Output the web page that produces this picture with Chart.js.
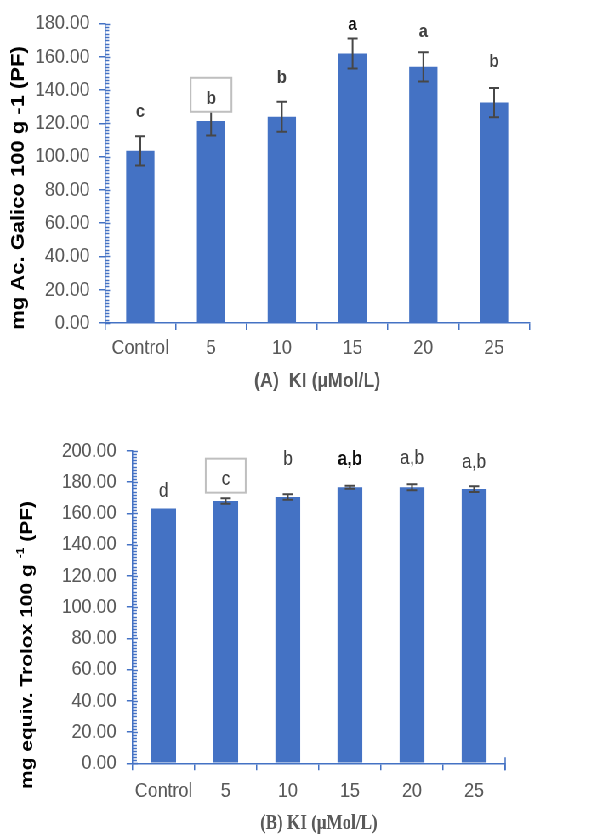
<!DOCTYPE html>
<html>
<head>
<meta charset="utf-8">
<script src="https://cdn.jsdelivr.net/npm/chart.js@4.4.1/dist/chart.umd.min.js"></script>
<style>
  html, body { margin: 0; padding: 0; background: #fff; }
  body { width: 614px; height: 834px; overflow: hidden; position: relative; }
  /* the figure is laid out on a 722px-wide stage and set into the page width */
  #stage { position: absolute; left: 0; top: 0; width: 722px; height: 834px;
           transform: scaleX(0.850416); transform-origin: 0 0; }
  #panelA { position: absolute; left: 0; top: 0; width: 722px; height: 400px; }
  #panelB { position: absolute; left: 0; top: 420px; width: 722px; height: 414px; }
</style>
</head>
<body>
<div id="stage">
  <div id="panelA"><canvas id="chartA" width="722" height="400"></canvas></div>
  <div id="panelB"><canvas id="chartB" width="722" height="414"></canvas></div>
</div>
<script>
// KI treatment levels (µMol/L)
const categories = ['Control', '5', '10', '15', '20', '25'];

// (A) total phenolics, mg gallic acid equivalents per 100 g FW
const phenolValues = [103.5, 121.5, 124.0, 162.0, 154.0, 132.5];
const phenolErrors = [8.8, 8.8, 9.0, 9.0, 8.8, 8.8];
const phenolLetters = ['c', 'b', 'b', 'a', 'a', 'b'];
const phenolTicks = [0, 20, 40, 60, 80, 100, 120, 140, 160, 180];

// (B) antioxidant capacity, mg Trolox equivalents per 100 g FW
const troloxValues = [163.2, 168.0, 170.5, 176.8, 176.8, 175.6];
const troloxErrors = [0, 1.8, 1.8, 0.9, 1.9, 1.8];
const troloxLetters = ['d', 'c', 'b', 'a,b', 'a,b', 'a,b'];
const troloxTicks = [0, 20, 40, 60, 80, 100, 120, 140, 160, 180, 200];

const BLUE = '#4472C4';
const AXIS = '#4472C4';
const TICK_TEXT = '#595959';
const SANS = '"Liberation Sans", Arial, sans-serif';
const SERIF = '"Liberation Serif", "Times New Roman", serif';

// Draws error bars, significance letters, minor axis ticks and the axis captions.
const decorations = {
  id: 'decor',
  afterDatasetsDraw(chart, args, o) {
    const ctx = chart.ctx;
    const ys = chart.scales.y;
    const meta = chart.getDatasetMeta(0);
    const vals = chart.data.datasets[0].data;

    ctx.save();
    ctx.strokeStyle = o.errColor;
    ctx.lineWidth = 2;
    meta.data.forEach((bar, i) => {
      const e = o.errors[i];
      if (!e) return;
      const yt = ys.getPixelForValue(vals[i] + e);
      const yb = ys.getPixelForValue(vals[i] - e);
      ctx.beginPath();
      ctx.moveTo(bar.x, yt); ctx.lineTo(bar.x, yb);
      ctx.moveTo(bar.x - 6, yt); ctx.lineTo(bar.x + 6, yt);
      ctx.moveTo(bar.x - 6, yb); ctx.lineTo(bar.x + 6, yb);
      ctx.stroke();
    });

    // significance letters above each bar
    ctx.textAlign = 'center';
    ctx.textBaseline = 'alphabetic';
    meta.data.forEach((bar, i) => {
      const base = ys.getPixelForValue(vals[i] + (o.errors[i] || 0)) - o.letterOffsets[i];
      const st = o.letterStyles[i];
      if (o.boxed === i) {
        ctx.fillStyle = '#FFFFFF';
        ctx.fillRect(bar.x - o.boxW / 2, base - 26.5, o.boxW, 34);
        ctx.strokeStyle = '#BFBFBF';
        ctx.lineWidth = 2;
        ctx.strokeRect(bar.x - o.boxW / 2, base - 26.5, o.boxW, 34);
      }
      ctx.font = st.font;
      ctx.fillStyle = st.color;
      ctx.fillText(o.letters[i], bar.x, base);
    });
    ctx.restore();
  },
  afterDraw(chart, args, o) {
    const ctx = chart.ctx;
    const ys = chart.scales.y;
    const xs = chart.scales.x;
    const ax = ys.right;
    ctx.save();
    ctx.strokeStyle = AXIS;
    ctx.lineWidth = 1.5;
    ctx.beginPath();
    // minor ticks on the inside of the value axis
    for (let v = ys.min; v <= ys.max + 1e-9; v += o.minorStep) {
      const py = Math.round(ys.getPixelForValue(v)) + 0.5;
      const major = Math.abs(v % o.majorStep) < 1e-6;
      ctx.moveTo(ax, py);
      ctx.lineTo(ax + (major ? 6 : 5), py);
    }
    // closing tick at the right end of the category axis
    if (o.closeRight) {
      ctx.moveTo(xs.right, xs.top - 6);
      ctx.lineTo(xs.right, xs.top + 7);
    }
    ctx.stroke();

    // value axis caption (rotated)
    const t = o.yTitle;
    ctx.translate(t.x, t.y);
    ctx.rotate(-Math.PI / 2);
    ctx.fillStyle = '#000';
    ctx.textBaseline = 'middle';
    ctx.textAlign = 'left';
    let total = 0;
    t.runs.forEach(r => { ctx.font = r.font; total += ctx.measureText(r.text).width; });
    let cx = -total / 2;
    t.runs.forEach(r => {
      ctx.font = r.font;
      ctx.fillText(r.text, cx, r.rise ? -r.rise : 0);
      cx += ctx.measureText(r.text).width;
    });
    ctx.setTransform(1, 0, 0, 1, 0, 0);

    // category axis caption
    const xt = o.xTitle;
    ctx.font = xt.font;
    ctx.fillStyle = TICK_TEXT;
    ctx.textAlign = 'center';
    ctx.textBaseline = 'middle';
    ctx.fillText(xt.text, (xs.left + xs.right) / 2, xt.y);
    ctx.restore();
  }
};

function buildChart(id, cfg) {
  const tickValues = cfg.ticks;
  return new Chart(document.getElementById(id), {
    type: 'bar',
    data: {
      labels: categories,
      datasets: [{
        data: cfg.values,
        backgroundColor: BLUE,
        borderWidth: 0,
        barPercentage: 0.4,
        categoryPercentage: 1.0
      }]
    },
    options: {
      responsive: false,
      animation: false,
      events: [],
      layout: { padding: { left: 0, top: cfg.area.top, right: cfg.width - cfg.area.right, bottom: 0 } },
      scales: {
        x: {
          offset: true,
          grid: { offset: true, drawOnChartArea: false, drawTicks: true, tickLength: 7, color: AXIS, lineWidth: 1.5 },
          border: { display: true, color: AXIS, width: 1.5 },
          ticks: { color: TICK_TEXT, font: { family: SANS, size: 21 }, padding: cfg.xPad, maxRotation: 0 },
          afterFit(s) { s.height = cfg.height - cfg.area.bottom; }
        },
        y: {
          min: tickValues[0],
          max: tickValues[tickValues.length - 1],
          afterBuildTicks(s) { s.ticks = tickValues.map(v => ({ value: v })); },
          grid: { drawOnChartArea: false, drawTicks: true, tickLength: 7, color: AXIS, lineWidth: 1.5 },
          border: { display: true, color: AXIS, width: 1.5 },
          ticks: { color: TICK_TEXT, font: { family: SANS, size: 21 }, padding: cfg.yPad,
                   callback: v => Number(v).toFixed(2) },
          afterFit(s) { s.width = cfg.area.left; }
        }
      },
      plugins: {
        legend: { display: false },
        tooltip: { enabled: false },
        decor: cfg.decor
      }
    },
    plugins: [decorations]
  });
}

buildChart('chartA', {
  values: phenolValues,
  ticks: phenolTicks,
  width: 722, height: 400,
  area: { left: 123.4, right: 622.6, top: 21, bottom: 323 },
  xPad: 6, yPad: 11,
  decor: {
    errors: phenolErrors,
    errColor: '#474747',
    letters: phenolLetters,
    letterOffsets: [19, 2, 18.7, 8.4, 15.7, 21],
    letterStyles: [
      { font: 'bold 19px ' + SANS, color: '#404040' },
      { font: 'bold 19px ' + SANS, color: '#404040' },
      { font: 'bold 19px ' + SANS, color: '#404040' },
      { font: 'bold 19px ' + SANS, color: '#0D0D0D' },
      { font: 'bold 19px ' + SANS, color: '#404040' },
      { font: 'bold 19px ' + SANS, color: '#404040' }
    ],
    boxed: 1, boxW: 48,
    minorStep: 2, majorStep: 20,
    closeRight: false,
    yTitle: { x: 22, y: 188, runs: [{ text: 'mg Ac. Galico 100 g -1 (PF)', font: 'bold 22px ' + SANS }] },
    xTitle: { text: '(A)  KI (µMol/L)', font: 'bold 21px ' + SANS, y: 381.7 }
  }
});

buildChart('chartB', {
  values: troloxValues,
  ticks: troloxTicks,
  width: 722, height: 414,
  area: { left: 155.9, right: 594, top: 31, bottom: 343.3 },
  xPad: 8, yPad: 12,
  decor: {
    errors: troloxErrors,
    errColor: '#474747',
    letters: troloxLetters,
    letterOffsets: [11.6, 13, 29, 20.7, 20.7, 18.7],
    letterStyles: [
      { font: '20px ' + SANS, color: '#404040' },
      { font: '20px ' + SANS, color: '#404040' },
      { font: '20px ' + SANS, color: '#404040' },
      { font: 'bold 20px ' + SANS, color: '#0D0D0D' },
      { font: '20px ' + SANS, color: '#404040' },
      { font: '20px ' + SANS, color: '#404040' }
    ],
    boxed: 1, boxW: 47,
    minorStep: 2, majorStep: 20,
    closeRight: true,
    yTitle: { x: 32, y: 225, runs: [
      { text: 'mg equiv. Trolox 100 g ', font: 'bold 21px ' + SANS },
      { text: '-1', font: 'bold 12px ' + SANS, rise: 7 },
      { text: ' (PF)', font: 'bold 21px ' + SANS }
    ] },
    xTitle: { text: '(B) KI (μMol/L)', font: 'bold 20px ' + SERIF, y: 404 }
  }
});
</script>
</body>
</html>
